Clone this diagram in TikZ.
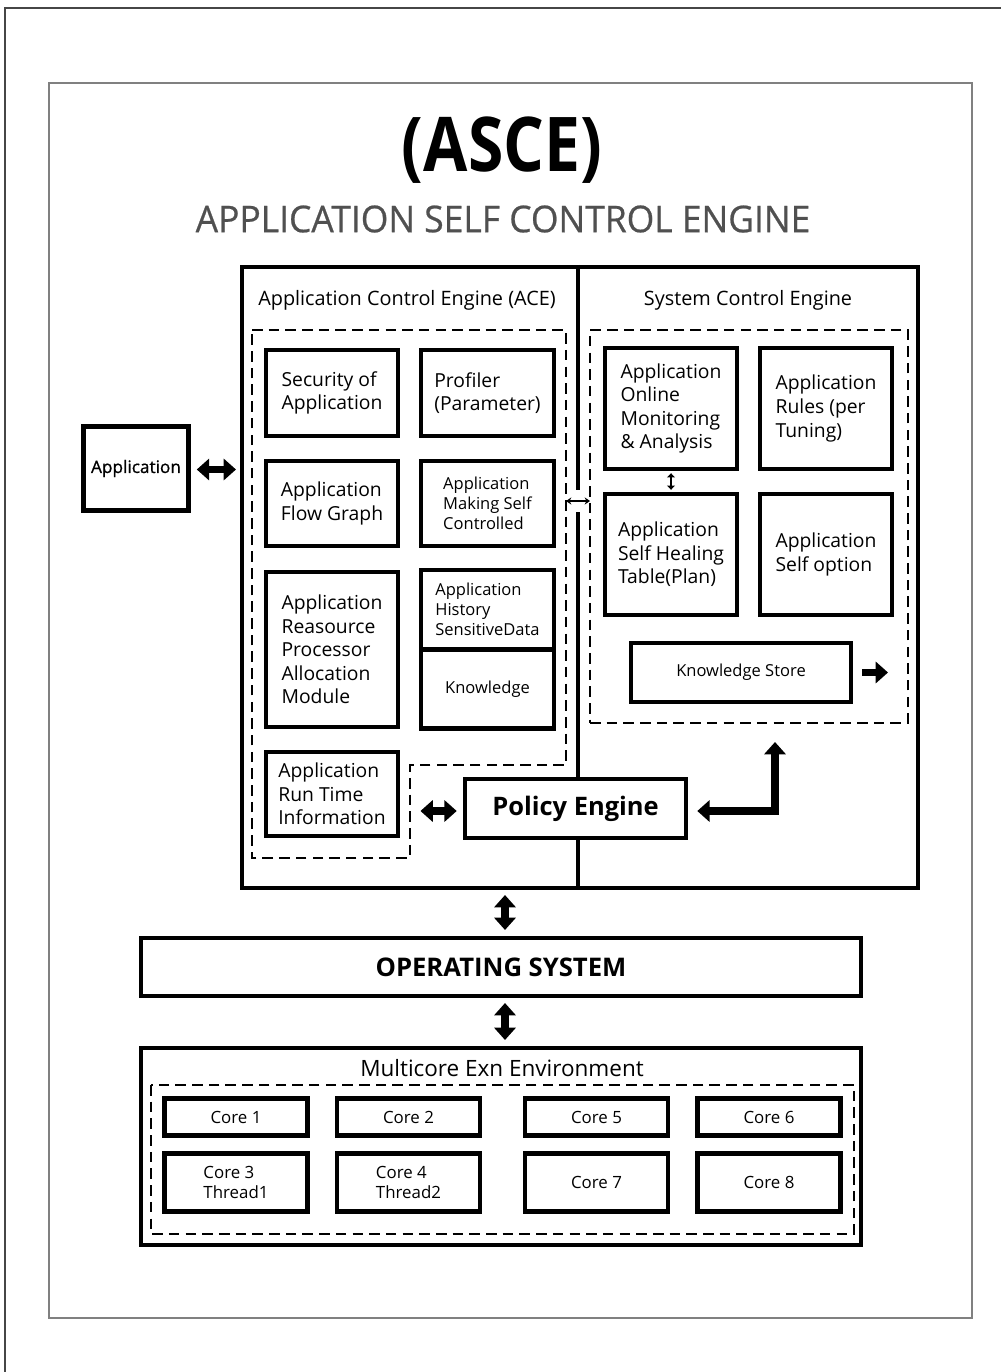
\documentclass[tikz,border=0pt]{standalone}
\usepackage{fontspec}
\setmainfont{Open Sans}
\newfontfamily\titlefont[FakeStretch=0.85]{Open Sans}
\newfontfamily\subtitlefont[FakeStretch=0.96,FakeBold=0.6]{Open Sans}
\newfontfamily\appfont[FakeBold=0.8]{Open Sans}
\usepackage{xcolor}
\usepackage{tikz}
\usetikzlibrary{arrows.meta,calc}
\definecolor{subgray}{RGB}{80,80,80}
\definecolor{framegray}{RGB}{70,70,70}
\newcommand\pxu{0.02cm}

\begin{document}
\begin{tikzpicture}[x=0.02cm,y=-0.02cm]
    \useasboundingbox (0,0) rectangle (1001,1372);

        \tikzstyle{blk}=[draw,fill=white,line width=2.8pt,align=left,inner sep=0pt,font=\fontsize{11}{13.4}\selectfont]
        \tikzstyle{smallblk}=[blk,font=\fontsize{9.4}{11.3}\selectfont]
        \tikzstyle{corebox}=[draw,line width=2.6pt,align=left,inner sep=0pt,minimum width=143*\pxu,font=\fontsize{9.6}{11.6}\selectfont]
        \tikzstyle{dashbox}=[line width=1.2pt,dash pattern=on 6pt off 3.5pt]
        \tikzstyle{bigboth}=[line width=4.2pt,{Triangle[length=7pt,width=12pt]}-{Triangle[length=7pt,width=12pt]}]
        \tikzstyle{bigone}=[line width=4.2pt,-{Triangle[length=7pt,width=12pt]}]
        \tikzstyle{thinboth}=[line width=1.2pt,{Triangle[length=2.4pt,width=4.5pt]}-{Triangle[length=2.4pt,width=4.5pt]}]
        \tikzset{sz/.style 2 args={minimum width=#1*\pxu,minimum height=#2*\pxu}}

        %% Frames
        \draw[framegray,line width=1.2pt] (5,1372) -- (5,8) -- (1001,8);
        \draw[gray,line width=0.9pt] (49,83) rectangle (972,1318);

        %% Titles
        \node[font=\titlefont\bfseries\fontsize{43}{46}\selectfont] (title) at (502,150) {(ASCE)};
        \node[subgray,font=\subtitlefont\fontsize{21}{24}\selectfont] (subtitle) at (503,219) {APPLICATION SELF CONTROL ENGINE};

        %% Main engine box
        \node[draw,line width=2.3pt,sz={676}{621}] (main) at (580,577.5) {};
        \coordinate (div) at (578,0);
        \node[font=\fontsize{11.3}{13}\selectfont] (acehead) at (407,300) {Application Control Engine (ACE)};
        \node[font=\fontsize{11.3}{13}\selectfont] (scehead) at (748,300) {System Control Engine};

        %% ACE
        \draw[dashbox] (252,330) -- (566,330) -- (566,765) -- (410,765) -- (410,858) -- (252,858) -- cycle;
        \node[blk,sz={132}{86}] (secapp) at (332,393) {Security of\\Application};
        \node[blk,sz={133}{86}] (profiler) at (487.5,393) {Profiler\\(Parameter)};
        \node[blk,sz={132}{85}] (flowgraph) at (332,503.5) {Application\\Flow Graph};
        \node[smallblk,sz={133}{85}] (selfctrl) at (487.5,503.5) {Application\\Making Self\\Controlled};
        \node[blk,sz={132}{155}] (resalloc) at (332,649.5) {Application\\Reasource\\Processor\\Allocation\\Module};
        \node[smallblk,sz={133}{79}] (history) at (487.5,609.5) {Application\\History\\SensitiveData};
        \node[smallblk,sz={133}{79}] (knowledge) at (487.5,689) {Knowledge};
        \node[blk,sz={132}{84}] (runtime) at (332,794) {Application\\Run Time\\Information};

        %% SCE
        \node[dashbox,draw,sz={318}{393}] (scebox) at (749,526.5) {};
        \node[blk,sz={132}{121}] (monitor) at (671,408.5) {Application\\Online\\Monitoring\\\& Analysis};
        \node[blk,sz={132}{121}] (rules) at (826,408.5) {Application\\Rules (per\\Tuning)};
        \node[blk,sz={132}{121}] (healing) at (671,554.5) {Application\\Self Healing\\Table(Plan)};
        \node[blk,sz={132}{121}] (selfopt) at (826,554.5) {Application\\Self option};
        \node[smallblk,sz={220}{59}] (kstore) at (741,672.5) {Knowledge Store};
        \coordinate (kout) at (888,672.5);

        %% Policy engine
        \node[blk,line width=2.6pt,sz={221}{59},align=center,font=\bfseries\fontsize{14.5}{16}\selectfont] (policy) at (575.5,808.5) {Policy Engine};
        \coordinate (lup) at (775,742);

        %% Divider
        \draw[line width=2.3pt] (main.north -| div) -- (578,490);
        \draw[line width=2.3pt] (578,512) -- (policy.north -| div);
        \draw[line width=2.3pt] (policy.south -| div) -- (main.south -| div);

        %% Application
        \node[smallblk,line width=2.6pt,sz={105}{84},align=center,font=\appfont\fontsize{9.8}{11.6}\selectfont] (app) at (136,468.5) {Application};

        %% OS and cores
        \node[draw,line width=2.3pt,sz={720}{58},font=\bfseries\fontsize{14.6}{16}\selectfont] (os) at (501,967) {OPERATING SYSTEM};
        \node[draw,line width=2.3pt,sz={720}{197}] (multi) at (501,1146.5) {};
        \node[font=\fontsize{12.8}{14}\selectfont] (multihead) at (502,1068) {Multicore Exn Environment};
        \draw[dashbox] (151,1085) rectangle (854,1234);
        \node[corebox,minimum height=37*\pxu] (core1) at (236,1117) {Core 1};
        \node[corebox,minimum height=37*\pxu] (core2) at (408.5,1117) {Core 2};
        \node[corebox,minimum height=37*\pxu] (core5) at (596.5,1117) {Core 5};
        \node[corebox,minimum height=37*\pxu] (core6) at (769,1117) {Core 6};
        \node[corebox,minimum height=58*\pxu] (core3) at (236,1182.5) {Core 3\\Thread1};
        \node[corebox,minimum height=58*\pxu] (core4) at (408.5,1182.5) {Core 4\\Thread2};
        \node[corebox,minimum height=58*\pxu] (core7) at (596.5,1182.5) {Core 7};
        \node[corebox,minimum height=58*\pxu] (core8) at (769,1182.5) {Core 8};

        %% Arrows
        \coordinate (aceedge) at (566,501);
        \coordinate (sceedge) at (590,501);
        \draw[line width=1.1pt,{Stealth[length=3pt,width=4pt]}-{Stealth[length=3pt,width=4pt]}] (aceedge) -- (sceedge);
        \draw[thinboth,shorten <=1pt,shorten >=1pt] (monitor.south) -- (healing.north);
        \draw[bigboth] ($(app.east)+(6,1)$) -- ($(app.east -| main.west)+(-4,1)$);
        \draw[bigboth] ($(runtime.east |- policy.west)+(20,2.5)$) -- ($(policy.west)+(-6,2.5)$);
        \draw[bigboth] ($(policy.east)+(9,2.5)$) -| (lup);
        \draw[bigone] ($(kstore.east)+(9,0)$) -- (kout);
        \draw[bigboth] ($(os.north)+(4,-6)$) -- ($(os.north |- main.south)+(4,5)$);
        \draw[bigboth] ($(multi.north)+(4,-6)$) -- ($(multi.north |- os.south)+(4,5)$);

\end{tikzpicture}
\end{document}
